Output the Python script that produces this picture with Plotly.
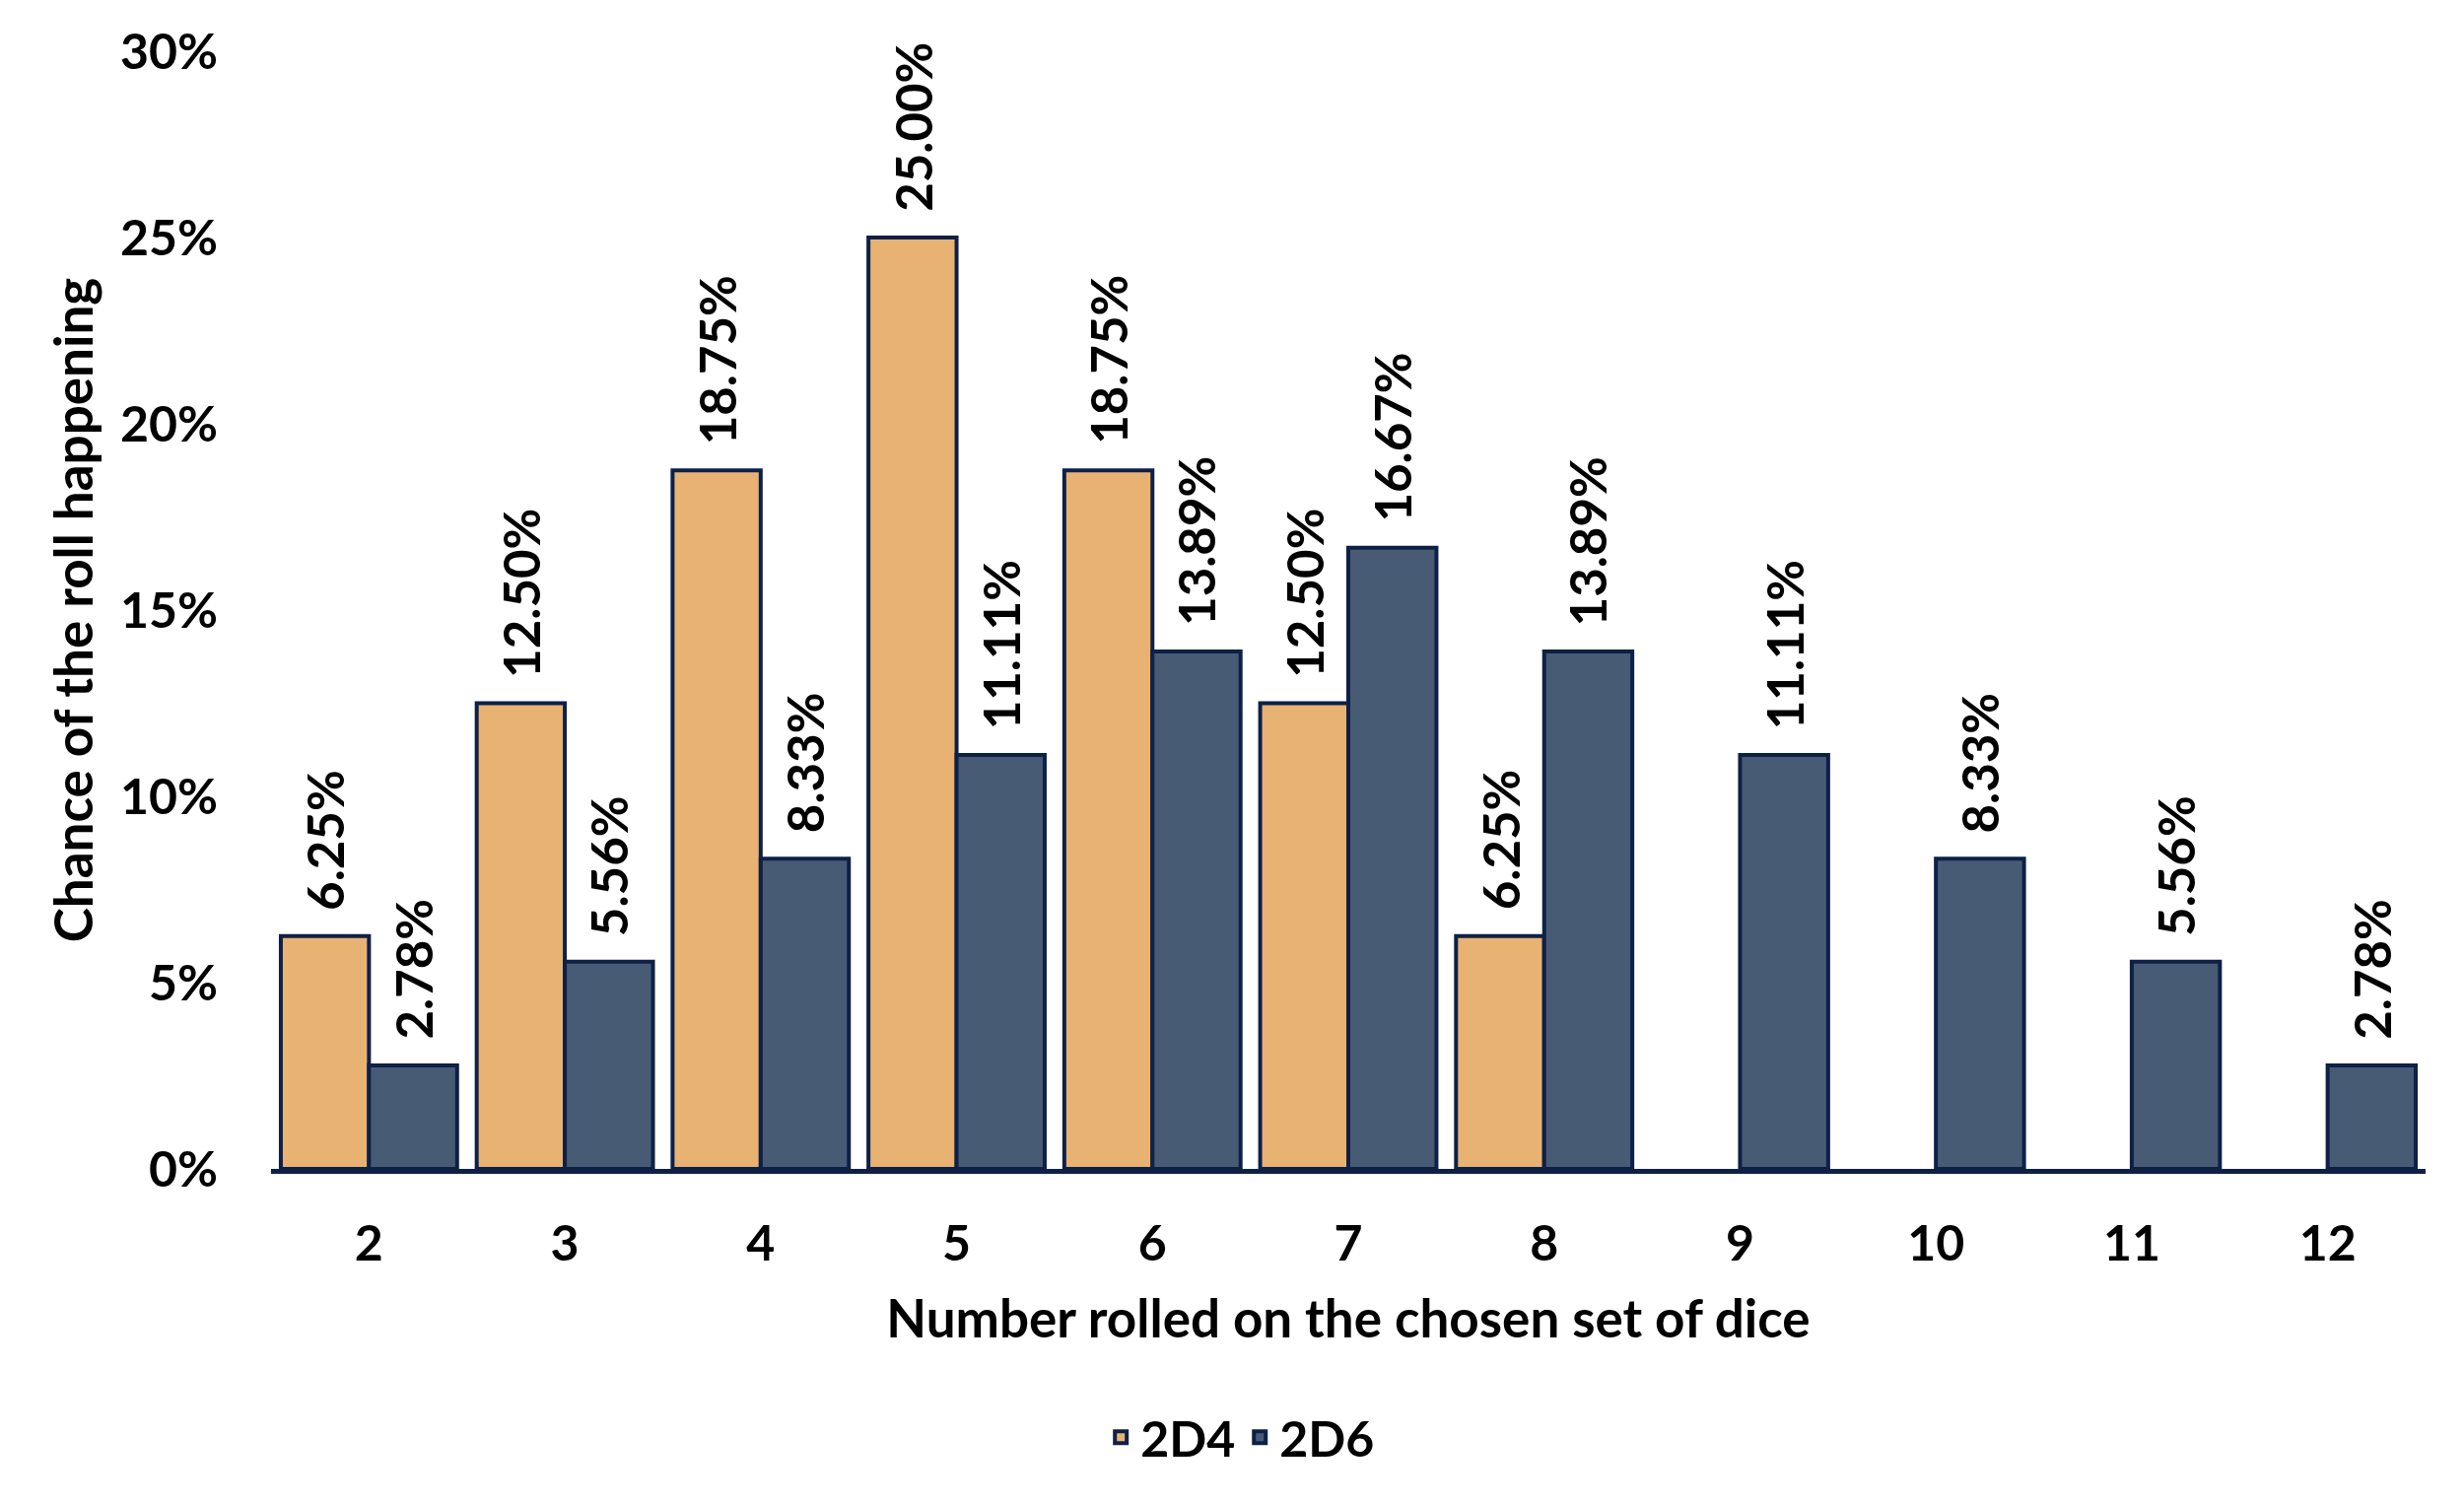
import plotly.graph_objects as go

categories = ["2", "3", "4", "5", "6", "7", "8", "9", "10", "11", "12"]
d4_values = [0.0625, 0.125, 0.1875, 0.25, 0.1875, 0.125, 0.0625, None, None, None, None]
d6_values = [0.0278, 0.0556, 0.0833, 0.1111, 0.1389, 0.1667, 0.1389, 0.1111, 0.0833, 0.0556, 0.0278]
series_names = ["2D4", "2D6"]
y_ticks = [0, 0.05, 0.10, 0.15, 0.20, 0.25, 0.30]

FONT = "Lato"
ORANGE = "#E8B273"
SLATE = "#475C74"
NAVY = "#0E2046"
BARGAP = 0.1

fig = go.Figure()
for name, vals, col in [(series_names[0], d4_values, ORANGE), (series_names[1], d6_values, SLATE)]:
    fig.add_trace(go.Bar(
        x=categories, y=vals, name=name,
        marker=dict(color=col, line=dict(color=NAVY, width=4)),
    ))

# data labels
half = (1 - BARGAP) / 4
for si, vals in enumerate([d4_values, d6_values]):
    off = -half if si == 0 else half
    for i, v in enumerate(vals):
        if v is None:
            continue
        fig.add_annotation(
            x=i + off, y=v, xref="x", yref="y",
            text=f"{v*100:.2f}%", textangle=-90, showarrow=False,
            xanchor="center", yanchor="bottom", yshift=24,
            font=dict(family=FONT, size=51, color="black", weight="bold"),
        )

fig.update_layout(
    width=2500, height=1526,
    paper_bgcolor="white", plot_bgcolor="white",
    barmode="group", bargap=BARGAP, bargroupgap=0,
    margin=dict(l=267, r=47, t=44, b=348, autoexpand=False),
    font=dict(family=FONT, size=50, color="black", weight="bold"),
    showlegend=True,
    legend=dict(orientation="h", x=0.45, y=-0.24, xanchor="center", yanchor="middle",
                font=dict(family=FONT, size=50, color="black", weight="bold"),
                traceorder="normal"),
    xaxis=dict(
        type="category", range=[-0.5, 10.5], automargin=False,
        showline=True, linecolor=NAVY, linewidth=5,
        ticks="", showgrid=False, ticklabelstandoff=28,
        tickfont=dict(family=FONT, size=50, color="black", weight="bold"),
        title=dict(text="Number rolled on the chosen set of dice", standoff=32,
                   font=dict(family=FONT, size=53, color="black", weight="bold")),
    ),
    yaxis=dict(
        range=[0, 0.30], tickvals=y_ticks, tickformat=".0%", automargin=False,
        showline=False, showgrid=False, zeroline=False, ticks="",
        ticklabelstandoff=53,
        tickfont=dict(family=FONT, size=50, color="black", weight="bold"),
        title=dict(text="Chance of the roll happening", standoff=10,
                   font=dict(family=FONT, size=53, color="black", weight="bold")),
    ),
)

fig.write_html("out.html")
